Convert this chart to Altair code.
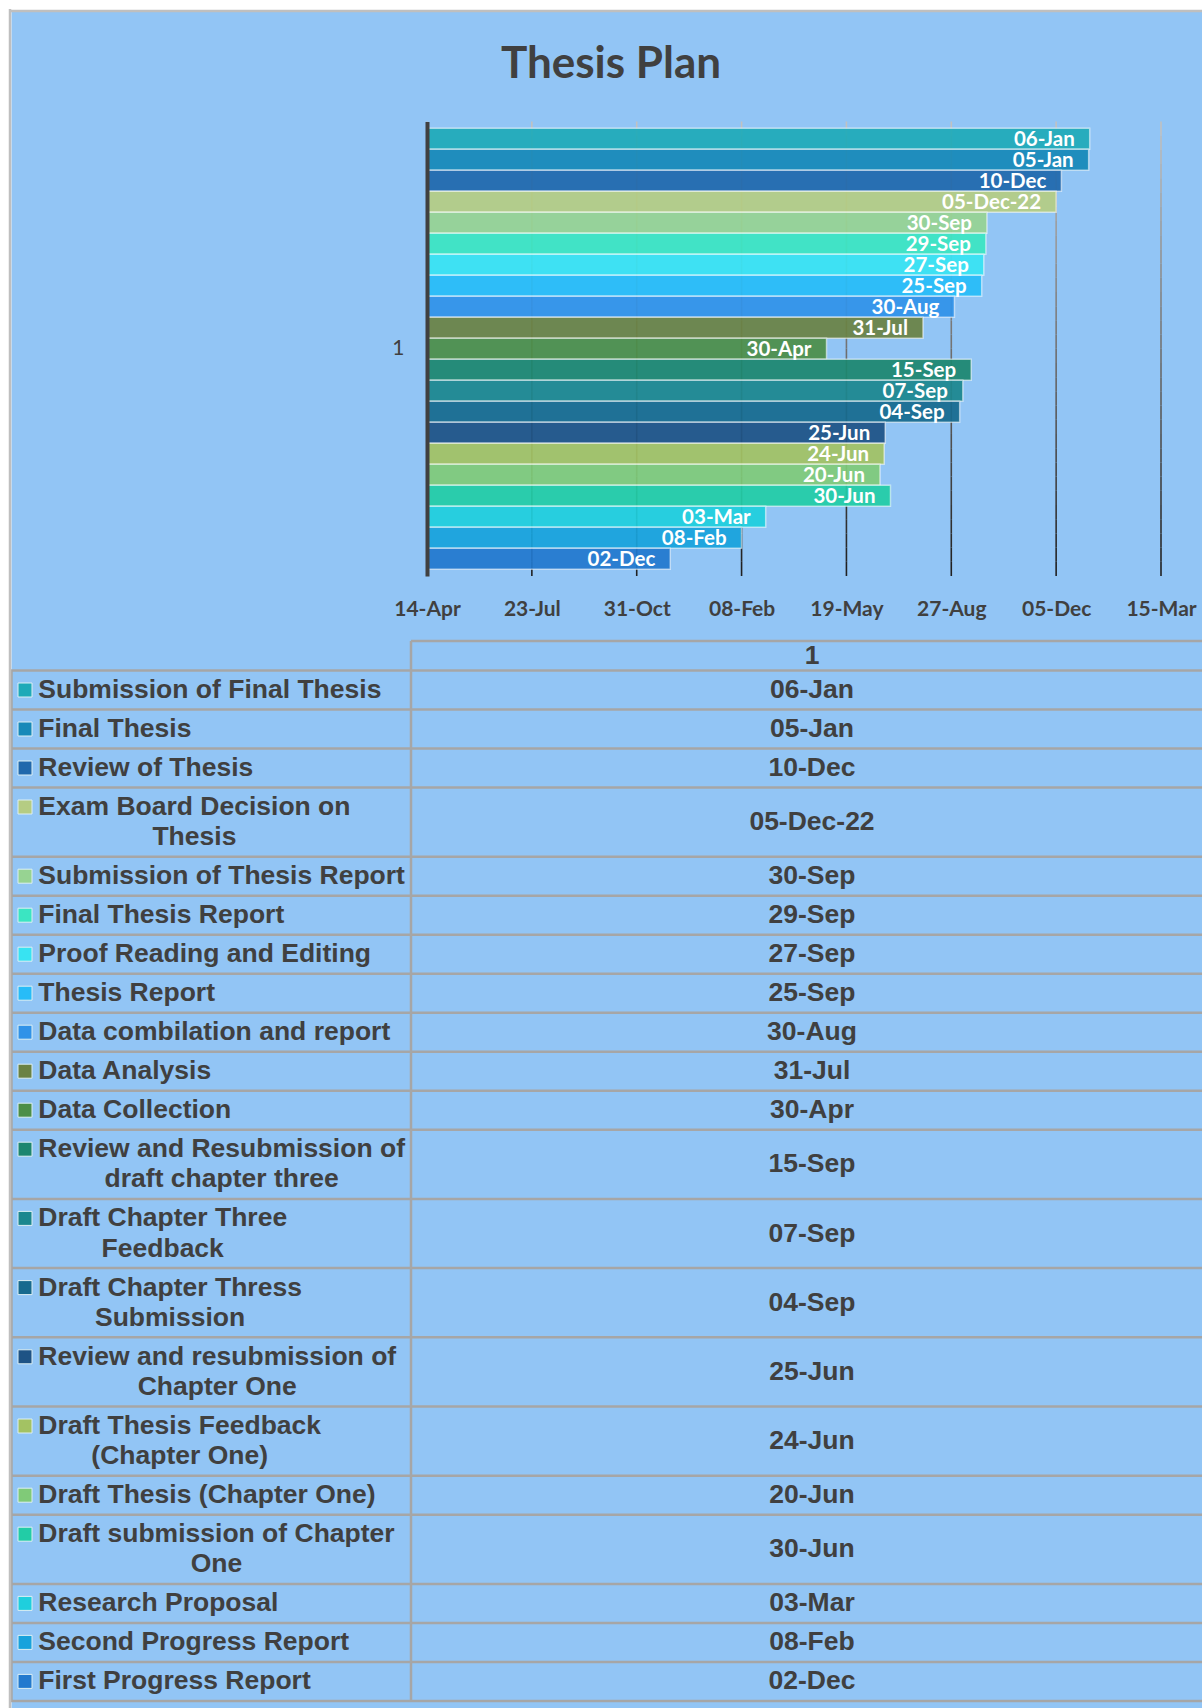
import altair as alt
import pandas as pd

# ---------------- data ----------------
tasks = [
    "Submission of Final Thesis",
    "Final Thesis",
    "Review of Thesis",
    "Exam Board Decision on Thesis",
    "Submission of Thesis Report",
    "Final Thesis Report",
    "Proof Reading and Editing",
    "Thesis Report",
    "Data combilation and report",
    "Data Analysis",
    "Data Collection",
    "Review and Resubmission of draft chapter three",
    "Draft Chapter Three Feedback",
    "Draft Chapter Thress Submission",
    "Review and resubmission of Chapter One",
    "Draft Thesis Feedback (Chapter One)",
    "Draft Thesis (Chapter One)",
    "Draft submission of Chapter One",
    "Research Proposal",
    "Second Progress Report",
    "First Progress Report",
]
end_dates = [
    "2023-01-06", "2023-01-05", "2022-12-10", "2022-12-05", "2022-09-30",
    "2022-09-29", "2022-09-27", "2022-09-25", "2022-08-30", "2022-07-31",
    "2022-04-30", "2022-09-15", "2022-09-07", "2022-09-04", "2022-06-25",
    "2022-06-24", "2022-06-20", "2022-06-30", "2022-03-03", "2022-02-08",
    "2021-12-02",
]
series_colors = [
    "#1FAAB8", "#1789B8", "#2068AC", "#B5CC83", "#97D392", "#3BE5C2",
    "#38E3F2", "#27BCF8", "#3092E8", "#6A8244", "#4C8E48", "#1D866F",
    "#1C878E", "#176A8E", "#1E5385", "#A3C263", "#80CA78", "#22CCA6",
    "#1FCFDD", "#18A2DC", "#2279CE",
]
category = "1"
axis_start = "2021-04-14"
tick_dates = [
    "2021-04-14", "2021-07-23", "2021-10-31", "2022-02-08",
    "2022-05-19", "2022-08-27", "2022-12-05", "2023-03-15",
]
long_date_tasks = ["Exam Board Decision on Thesis"]

# ---------------- helpers ----------------
def ms(d):
    return int(pd.Timestamp(d, tz="UTC").timestamp() * 1000)


labels = [
    pd.Timestamp(d).strftime("%d-%b-%y" if t in long_date_tasks else "%d-%b")
    for t, d in zip(tasks, end_dates)
]

# Helvetica-Bold advance widths (1/1000 em), used to wrap the table labels
HELV_BOLD = {
    " ": 278, "(": 333, ")": 333, "-": 333,
    "A": 722, "B": 722, "C": 722, "D": 722, "E": 667, "F": 611, "G": 778,
    "H": 722, "I": 278, "J": 556, "K": 722, "L": 611, "M": 833, "N": 722,
    "O": 778, "P": 667, "Q": 778, "R": 722, "S": 667, "T": 611, "U": 722,
    "V": 667, "W": 944, "X": 667, "Y": 667, "Z": 611,
    "a": 556, "b": 611, "c": 556, "d": 611, "e": 556, "f": 333, "g": 611,
    "h": 611, "i": 278, "j": 278, "k": 556, "l": 278, "m": 889, "n": 611,
    "o": 611, "p": 611, "q": 611, "r": 389, "s": 556, "t": 333, "u": 611,
    "v": 556, "w": 778, "x": 556, "y": 556, "z": 500,
}


def text_units(s):
    return sum(HELV_BOLD.get(c, 600) for c in s)


def wrap(label, limit=14000):
    lines, cur = [], ""
    for word in label.split(" "):
        trial = word if not cur else cur + " " + word
        if not cur or text_units(trial) <= limit:
            cur = trial
        else:
            lines.append(cur)
            cur = word
    lines.append(cur)
    return lines


# ---------------- layout ----------------
W, H = 1191, 1697
N = len(tasks)
PLOT_X0, PLOT_X1 = 416, 1150
PLOT_Y0, PLOT_Y1 = 110.5, 565
SLOT_PAD = 0.322

TEXT_COLOR = "#404040"
TABLE_FONT = "Liberation Sans"
TABLE_SIZE = 26.5
TABLE_Y0 = 630
HEADER_H = 29.5
LINE_H = 30.2
ROW_PAD = 8.8
COL_SPLIT = 400
VALUE_X = 801
KEY_X = 14
TEXT_X = 27.3

x_date = alt.Scale(type="utc", domain=[ms(tick_dates[0]), ms(tick_dates[-1])],
                   range=[PLOT_X0, PLOT_X1], nice=False)
y_slot = alt.Scale(domain=[-SLOT_PAD, N + SLOT_PAD], range=[PLOT_Y0, PLOT_Y1],
                   nice=False, zero=False)
color_scale = alt.Scale(domain=tasks, range=series_colors)

# ---------------- bar chart ----------------
bars_df = pd.DataFrame({
    "task": tasks,
    "slot": list(range(N)),
    "start": axis_start,
    "end": end_dates,
    "label": labels,
})
bars_df["slot_end"] = bars_df["slot"] + 1
bars_df["slot_mid"] = bars_df["slot"] + 0.5

# vertical gridlines, shaded from light grey at the top to near black at the bottom
NSEG = 32
span = N + 2 * SLOT_PAD
grid_rows = []
for d in tick_dates:
    for k in range(NSEG):
        g = round(196 - (196 - 30) * (k + 0.5) / NSEG)
        grid_rows.append({
            "date": d,
            "s0": -SLOT_PAD + span * k / NSEG,
            "s1": -SLOT_PAD + span * (k + 1) / NSEG,
            "shade": f"#{g:02x}{g:02x}{g:02x}",
        })
grid_df = pd.DataFrame(grid_rows)

grid = alt.Chart(grid_df).mark_rule(strokeWidth=1.6).encode(
    x=alt.X("date:T", scale=x_date, axis=None),
    y=alt.Y("s0:Q", scale=y_slot, axis=None),
    y2="s1:Q",
    color=alt.Color("shade:N", scale=None),
)

x_axis = alt.Axis(
    values=[ms(d) for d in tick_dates], format="%d-%b", orient="bottom",
    offset=-(H - PLOT_Y1), domain=False, ticks=False, grid=False,
    labelPadding=22, labelFont="Lato", labelFontWeight="bold", labelFontSize=21,
    labelColor=TEXT_COLOR, labelFlush=False, labelOverlap=False, title=None,
)
y_axis = alt.Axis(
    values=[N / 2], labelExpr=f"'{category}'", orient="left", offset=-PLOT_X0,
    domain=True, domainColor=TEXT_COLOR, domainWidth=4, ticks=False, grid=False,
    labelPadding=23, labelFont="Lato", labelFontSize=21, labelColor=TEXT_COLOR,
    title=None, zindex=1,
)

bars = alt.Chart(bars_df).mark_rect(
    fillOpacity=0.93, stroke="white", strokeOpacity=0.55, strokeWidth=1.5
).encode(
    x=alt.X("start:T", scale=x_date, axis=x_axis),
    x2="end:T",
    y=alt.Y("slot:Q", scale=y_slot, axis=y_axis),
    y2="slot_end:Q",
    color=alt.Color("task:N", scale=color_scale, legend=None),
)

bar_labels = alt.Chart(bars_df).mark_text(
    align="right", baseline="middle", dx=-15, dy=1.5,
    font="Lato", fontWeight="bold", fontSize=20.5, color="white",
).encode(
    x=alt.X("end:T", scale=x_date, axis=None),
    y=alt.Y("slot_mid:Q", scale=y_slot, axis=None),
    text="label:N",
)

# ---------------- data table ----------------
row_rows, line_rows, key_rows, rule_rows = [], [], [], []
y = HEADER_H
rule_rows.append({"x0": COL_SPLIT, "x1": W, "y0": 0, "y1": 0})
rule_rows.append({"x0": 0, "x1": W, "y0": HEADER_H, "y1": HEADER_H})
for task, label in zip(tasks, labels):
    lines = wrap(task)
    n = len(lines)
    h = ROW_PAD + LINE_H * n
    center = y + h / 2
    first_w = text_units(lines[0]) * TABLE_SIZE / 1000
    for i, line in enumerate(lines):
        ly = center + (i - (n - 1) / 2) * LINE_H
        line_rows.append({
            "text": line,
            "y": ly,
            "x": TEXT_X if i == 0 else TEXT_X + first_w / 2,
            "first": i == 0,
        })
    key_rows.append({"task": task, "x": KEY_X,
                     "y": center - (n - 1) / 2 * LINE_H})
    row_rows.append({"value": label, "x": VALUE_X, "y": center})
    y += h
    rule_rows.append({"x0": 0, "x1": W, "y0": y, "y1": y})
TABLE_H = y
rule_rows.append({"x0": COL_SPLIT, "x1": COL_SPLIT, "y0": 0, "y1": TABLE_H})
rule_rows.append({"x0": 0.5, "x1": 0.5, "y0": HEADER_H, "y1": TABLE_H})

x_tab = alt.Scale(domain=[0, W], range=[0, W], nice=False, zero=False)
y_tab = alt.Scale(domain=[0, TABLE_H], range=[TABLE_Y0, TABLE_Y0 + TABLE_H],
                  nice=False, zero=False)

line_df = pd.DataFrame(line_rows)
table_rules = alt.Chart(pd.DataFrame(rule_rows)).mark_rule(
    color="#A6A6A6", strokeWidth=2.5
).encode(
    x=alt.X("x0:Q", scale=x_tab, axis=None), x2="x1:Q",
    y=alt.Y("y0:Q", scale=y_tab, axis=None), y2="y1:Q",
)

text_style = dict(font=TABLE_FONT, fontWeight="bold", fontSize=TABLE_SIZE,
                  color=TEXT_COLOR, baseline="middle")

first_lines = alt.Chart(line_df[line_df["first"]]).mark_text(
    align="left", **text_style
).encode(
    x=alt.X("x:Q", scale=x_tab, axis=None),
    y=alt.Y("y:Q", scale=y_tab, axis=None),
    text="text:N",
)
wrapped_lines = alt.Chart(line_df[~line_df["first"]]).mark_text(
    align="center", **text_style
).encode(
    x=alt.X("x:Q", scale=x_tab, axis=None),
    y=alt.Y("y:Q", scale=y_tab, axis=None),
    text="text:N",
)
values = alt.Chart(pd.DataFrame(row_rows)).mark_text(
    align="center", **text_style
).encode(
    x=alt.X("x:Q", scale=x_tab, axis=None),
    y=alt.Y("y:Q", scale=y_tab, axis=None),
    text="value:N",
)
header = alt.Chart(pd.DataFrame({"text": [category], "x": [VALUE_X],
                                 "y": [HEADER_H / 2]})).mark_text(
    align="center", **text_style
).encode(
    x=alt.X("x:Q", scale=x_tab, axis=None),
    y=alt.Y("y:Q", scale=y_tab, axis=None),
    text="text:N",
)
keys = alt.Chart(pd.DataFrame(key_rows)).mark_square(
    size=196, filled=True, opacity=1, stroke="#DDEFF3", strokeWidth=1
).encode(
    x=alt.X("x:Q", scale=x_tab, axis=None),
    y=alt.Y("y:Q", scale=y_tab, axis=None),
    color=alt.Color("task:N", scale=color_scale, legend=None),
)

# chart frame (left and top edges)
frame_src = pd.DataFrame({"edge": ["frame"]})
frame_left = alt.Chart(frame_src).mark_rule(color="#BFBFBF", strokeWidth=2.5).encode(
    x=alt.value(-1), x2=alt.value(-1), y=alt.value(-2), y2=alt.value(H),
)
frame_top = alt.Chart(frame_src).mark_rule(color="#BFBFBF", strokeWidth=2.5).encode(
    x=alt.value(-2), x2=alt.value(W), y=alt.value(0), y2=alt.value(0),
)

chart = alt.layer(
    grid, bars, bar_labels, table_rules, keys, first_lines, wrapped_lines,
    values, header, frame_left, frame_top,
).resolve_scale(
    x="independent", y="independent"
).properties(
    width=W,
    height=H,
    autosize=alt.AutoSizeParams(type="none"),
    padding={"left": 11, "top": 11, "right": 0, "bottom": 0},
    background="white",
    title=alt.TitleParams(
        "Thesis Plan", font="Lato", fontSize=44, fontWeight="bold",
        color=TEXT_COLOR, anchor="middle", dx=4.5, dy=83,
    ),
).configure_view(fill="#92C5F5", stroke="transparent")

chart.save("out.html", embed_options={"renderer": "svg", "actions": False})
